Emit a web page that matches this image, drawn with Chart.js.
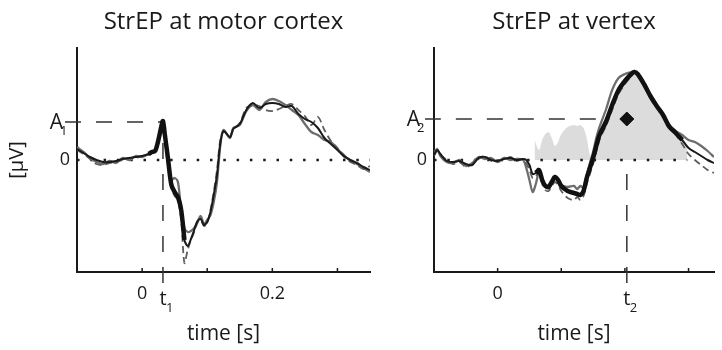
<!DOCTYPE html>
<html lang="en">
  <head>
    <meta charset="UTF-8" />
    <title>StrEP</title>
    <style>
      body {
        margin: 0;
        background: #fff;
      }
      .panel {
        position: absolute;
        top: 0;
        height: 350px;
      }
      #left {
        left: 0;
        width: 390px;
      }
      #right {
        left: 390px;
        width: 332px;
      }
    </style>
  </head>
  <body>
    <div class="panel" id="left"><canvas id="leftChart"></canvas></div>
    <div class="panel" id="right"><canvas id="rightChart"></canvas></div>

    <script src="https://cdn.jsdelivr.net/npm/chart.js"></script>
    <script>
      // ---- motor cortex panel ----
      const timeL = [-0.1, -0.09, -0.08, -0.07, -0.06, -0.05, -0.04, -0.03, -0.02, -0.01, 0,
        0.01, 0.015, 0.02, 0.025, 0.03, 0.032, 0.035, 0.04, 0.045, 0.05, 0.055, 0.06, 0.065,
        0.07, 0.075, 0.08, 0.085, 0.09, 0.095, 0.1, 0.105, 0.11, 0.115, 0.12, 0.125,
        0.135, 0.14,
        0.15, 0.16, 0.17, 0.18, 0.19, 0.2, 0.21, 0.22, 0.23, 0.24, 0.25, 0.26, 0.27, 0.28,
        0.29, 0.3, 0.31, 0.32, 0.33, 0.34, 0.35];
      const blackL = [1.1, 0.7, 0.3, 0.0, -0.2, -0.2, -0.1, 0.1, 0.2, 0.3, 0.4,
        0.6, 0.8, 0.9, 2.0, 3.5, 3.9, 2.5, 0.0, -2.5, -3.2, -3.7, -5.0, -8.0,
        -8.6, -7.9, -7.0, -6.1, -5.9, -6.5, -6.2, -5.2, -3.5, -1.5, 1.6, 2.9,
        2.3, 3.1,
        3.6, 5.0, 5.7, 5.2, 5.6, 5.7, 5.6, 5.3, 5.4, 4.6, 4.1, 3.8, 3.2, 2.2,
        1.6, 1.0, 0.4, 0.0, -0.3, -0.7, -1.0];
      const grayL = [1.3, 0.8, 0.2, -0.2, -0.4, -0.1, -0.3, 0.2, 0.0, 0.4, 0.3,
        0.6, 0.7, 0.9, 1.8, 3.2, 3.6, 2.3, -0.5, -2.0, -1.8, -2.2, -5.0, -6.8,
        -7.2, -7.1, -6.8, -6.2, -5.6, -6.4, -6.0, -5.5, -4.2, -2.2, 1.4, 3.0,
        2.2, 3.2,
        3.5, 4.9, 5.5, 5.0, 5.8, 6.1, 5.9, 5.5, 5.0, 4.5, 3.6, 2.8, 2.5, 2.0,
        1.8, 1.1, 0.5, -0.1, -0.4, -0.8, -1.2];
      const dashL = [1.0, 0.6, 0.1, -0.4, -0.5, -0.3, -0.2, 0.0, 0.2, 0.2, 0.4,
        0.5, 0.7, 0.9, 1.9, 3.4, 3.8, 2.4, -0.3, -2.8, -3.6, -4.0, -6.0, -10.3,
        -9.0, -8.0, -7.2, -6.3, -6.0, -6.6, -6.3, -5.0, -3.2, -1.0, 2.0, 2.8,
        2.4, 3.0,
        3.7, 5.2, 5.5, 5.4, 5.0, 4.9, 5.1, 5.4, 5.6, 5.0, 4.4, 3.5, 4.3, 3.0,
        1.9, 1.2, 0.3, -0.2, -0.5, -0.9, -0.6];
      const windowL = [0.01, 0.065];
      const t1 = 0.032;
      const A1 = 3.8;
      const xTicksL = [0, 0.1, 0.2, 0.3];
      const xLabelsL = ["0", "", "0.2", ""];

      // ---- vertex panel ----
      const timeR = [-0.1, -0.095, -0.09, -0.08, -0.07, -0.06, -0.05, -0.04, -0.03, -0.02,
        -0.01, 0, 0.01, 0.02, 0.03, 0.04, 0.045, 0.05, 0.055, 0.06, 0.065, 0.07, 0.075,
        0.08, 0.085, 0.09, 0.095, 0.1, 0.11, 0.12, 0.125, 0.13, 0.135, 0.14, 0.145, 0.15,
        0.155, 0.16, 0.17, 0.18, 0.19, 0.2, 0.21, 0.215, 0.22, 0.23, 0.24, 0.25, 0.26,
        0.27, 0.28, 0.29, 0.3, 0.31, 0.32, 0.33, 0.34];
      const blackR = [0.5, 1.0, 0.6, -0.1, -0.2, -0.1, -0.4, -0.5, 0.2, 0.3,
        0.0, -0.1, 0.1, 0.2, 0.0, 0.1, 0.0, -0.5, -1.4, -1.3, -1.0, -2.0, -2.6,
        -2.7, -2.2, -1.7, -2.0, -2.6, -3.1, -3.3, -3.4, -3.5, -3.1, -1.8, -0.8, 0.2,
        1.4, 2.5, 3.8, 5.5, 7.0, 7.9, 8.6, 8.8, 8.6, 7.6, 6.4, 5.4, 4.5,
        3.3, 2.7, 2.0, 1.2, 0.8, 0.4, 0.0, -0.3];
      const grayR = [0.7, 1.1, 0.4, -0.2, -0.3, 0.0, -0.6, -0.3, 0.3, 0.1,
        0.2, -0.2, 0.2, 0.0, 0.1, 0.0, -0.8, -2.0, -3.2, -2.4, -1.2, -2.1, -2.6,
        -2.5, -2.1, -1.8, -2.1, -2.5, -2.7, -2.6, -2.9, -2.6, -2.8, -1.5, -0.3, 0.8,
        2.2, 3.3, 5.0, 7.0, 8.2, 8.6, 8.8, 8.9, 8.5, 7.5, 6.5, 5.4, 4.4,
        3.5, 2.9, 2.5, 2.0, 1.8, 1.4, 0.9, 0.3];
      const dashR = [0.4, 0.9, 0.5, 0.0, -0.4, -0.2, -0.7, -0.4, 0.1, 0.4,
        -0.1, 0.0, 0.0, 0.3, -0.1, 0.1, -0.3, -1.0, -1.8, -1.6, -1.3, -2.4, -3.0,
        -3.1, -2.6, -2.2, -2.5, -3.1, -3.8, -4.0, -3.7, -4.0, -3.6, -2.4, -1.4, -0.4,
        0.8, 2.0, 3.4, 5.0, 6.6, 7.6, 8.4, 8.7, 8.5, 7.4, 6.2, 5.2, 4.3,
        3.2, 2.5, 1.6, 0.6, 0.0, -0.5, -1.0, -1.3];
      const windowR = [0.06, 0.29];
      // rectified area shown in grey
      const areaTime = [0.058, 0.065, 0.07, 0.075, 0.08, 0.085, 0.09, 0.095, 0.1, 0.11,
        0.12, 0.125, 0.13, 0.135, 0.14, 0.145, 0.15, 0.155, 0.16, 0.17, 0.18, 0.19, 0.2,
        0.21, 0.215, 0.22, 0.23, 0.24, 0.25, 0.26, 0.27, 0.28, 0.29, 0.298];
      const areaValue = [2.0, 1.0, 2.0, 2.6, 2.8, 2.2, 1.4, 1.8, 2.6, 3.3,
        3.5, 3.4, 3.5, 3.2, 2.2, 0.5, 0.2, 1.4, 2.5, 3.8, 5.5, 7.0, 7.9,
        8.6, 8.8, 8.6, 7.6, 6.4, 5.4, 4.5, 3.3, 2.7, 2.0, 1.3];
      const t2 = 0.203;
      const A2 = 4.1;
      const xTicksR = [0, 0.1, 0.2, 0.3];
      const xLabelsR = ["0", "", "", ""];

      const FONT = "'Open Sans', sans-serif";
      const INK = "#1a1a1a";

      function pts(times, values) {
        return times.map((t, i) => ({ x: t, y: values[i] }));
      }
      function inWindow(times, values, win) {
        return times.map((t, i) => ({
          x: t,
          y: t >= win[0] && t <= win[1] ? values[i] : null,
        }));
      }

      // dashed guides, inward ticks and the A/t labels
      const guidePlugin = {
        id: "guides",
        beforeDatasetsDraw(chart, args, o) {
          const { ctx, chartArea: a, scales } = chart;
          const px = scales.x.getPixelForValue(o.t);
          const py = scales.y.getPixelForValue(o.amp);
          ctx.save();
          ctx.strokeStyle = "#333";
          ctx.lineWidth = 1.5;
          ctx.setLineDash([16, 15]);
          ctx.beginPath();
          if (o.fromAxis) {
            ctx.moveTo(a.left - 12, py);
            ctx.lineTo(px, py);
          } else {
            ctx.moveTo(px, py);
            ctx.lineTo(a.left - 9, py);
          }
          ctx.stroke();
          ctx.beginPath();
          ctx.moveTo(px, a.bottom + 11);
          ctx.lineTo(px, py);
          ctx.stroke();
          ctx.restore();
        },
        afterDraw(chart, args, o) {
          const { ctx, chartArea: a, scales } = chart;
          ctx.save();
          ctx.strokeStyle = INK;
          ctx.lineWidth = 1.5;
          scales.x.ticks.forEach((tk) => {
            const x = scales.x.getPixelForValue(tk.value);
            ctx.beginPath();
            ctx.moveTo(x, a.bottom);
            ctx.lineTo(x, a.bottom - 4);
            ctx.stroke();
          });
          const px = scales.x.getPixelForValue(o.t);
          const py = scales.y.getPixelForValue(o.amp);
          ctx.fillStyle = INK;
          ctx.textBaseline = "middle";
          ctx.textAlign = "right";
          ctx.font = "21px " + FONT;
          ctx.fillText("A", a.left - 14, py + 1);
          ctx.textAlign = "left";
          ctx.font = "13px " + FONT;
          ctx.fillText(o.sub, a.left - 17, py + 9);
          ctx.textBaseline = "alphabetic";
          ctx.textAlign = "center";
          ctx.font = "20px " + FONT;
          ctx.fillText("t", px, a.bottom + 33);
          ctx.textAlign = "left";
          ctx.font = "13px " + FONT;
          ctx.fillText(o.sub, px + 3, a.bottom + 40);
          ctx.restore();
        },
      };

      function makePanel(id, p) {
        const datasets = [];
        if (p.area) {
          datasets.push({
            data: p.area,
            fill: "origin",
            backgroundColor: "#dcdcdc",
            borderWidth: 0,
            pointRadius: 0,
            tension: 0.3,
            order: 9,
          });
        }
        datasets.push(
          {
            data: [
              { x: p.min, y: 0 },
              { x: p.zeroEnd, y: 0 },
            ],
            borderColor: INK,
            borderWidth: 2.5,
            borderDash: [2.5, 10.8],
            pointRadius: 0,
            order: 8,
          },
          {
            data: pts(p.time, p.gray),
            borderColor: "#6e6e6e",
            borderWidth: 2.3,
            pointRadius: 0,
            tension: 0.3,
            order: 5,
          },
          {
            data: pts(p.time, p.dash),
            borderColor: "#5e5e5e",
            borderWidth: 1.8,
            borderDash: [7, 4],
            pointRadius: 0,
            tension: 0.3,
            order: 4,
          },
          {
            data: pts(p.time, p.black),
            borderColor: INK,
            borderWidth: 2,
            pointRadius: 0,
            tension: 0.3,
            order: 3,
          },
          {
            data: inWindow(p.time, p.black, p.win),
            borderColor: "#111",
            borderWidth: 4.5,
            pointRadius: 0,
            tension: 0.3,
            spanGaps: false,
            order: 2,
          }
        );
        if (p.marker) {
          datasets.push({
            data: [p.marker],
            showLine: false,
            pointStyle: "rectRot",
            pointRadius: 7,
            pointBackgroundColor: "#111",
            pointBorderColor: "#111",
            order: 1,
          });
        }

        new Chart(document.getElementById(id), {
          type: "line",
          data: { datasets },
          plugins: [guidePlugin],
          options: {
            responsive: true,
            maintainAspectRatio: false,
            animation: false,
            layout: { padding: { left: 0, right: p.padRight, top: 0, bottom: 0 } },
            plugins: {
              legend: { display: false },
              tooltip: { enabled: false },
              title: {
                display: true,
                text: p.title,
                fullSize: false,
                color: INK,
                font: { family: FONT, size: 24, weight: "normal", lineHeight: 1.2 },
                padding: { top: 8, bottom: 11.2 },
              },
              guides: { t: p.t, amp: p.amp, sub: p.sub, fromAxis: p.fromAxis },
            },
            scales: {
              x: {
                type: "linear",
                min: p.min,
                max: p.max,
                grid: { display: false, drawTicks: false },
                border: { display: true, color: INK, width: 2 },
                afterBuildTicks: (s) => {
                  s.ticks = p.xTicks.map((v) => ({ value: v }));
                },
                afterFit: (s) => {
                  s.height = 78;
                },
                ticks: {
                  autoSkip: false,
                  maxRotation: 0,
                  padding: 11,
                  color: INK,
                  font: { family: FONT, size: 18 },
                  callback: (v, i) => p.xLabels[i],
                },
                title: {
                  display: true,
                  text: "time [s]",
                  color: INK,
                  font: { family: FONT, size: 21 },
                  padding: { top: 0, bottom: 3 },
                },
              },
              y: {
                min: -11.2,
                max: 11.2,
                grid: { display: false, drawTicks: false },
                border: { display: true, color: INK, width: 2 },
                afterBuildTicks: (s) => {
                  s.ticks = [{ value: 0 }];
                },
                afterFit: (s) => {
                  s.width = p.yWidth;
                },
                ticks: {
                  padding: 7,
                  color: INK,
                  font: { family: FONT, size: 18 },
                  callback: () => "0",
                },
                title: {
                  display: p.yTitle,
                  text: "[μV]",
                  color: INK,
                  font: { family: FONT, size: 20 },
                  padding: { top: 5, bottom: 0 },
                },
              },
            },
          },
        });
      }

      makePanel("leftChart", {
        title: "StrEP at motor cortex",
        time: timeL,
        black: blackL,
        gray: grayL,
        dash: dashL,
        win: windowL,
        min: -0.1,
        max: 0.35,
        zeroEnd: 0.35,
        xTicks: xTicksL,
        xLabels: xLabelsL,
        t: t1,
        amp: A1,
        sub: "1",
        fromAxis: true,
        yWidth: 77,
        yTitle: true,
        padRight: 20,
      });

      makePanel("rightChart", {
        title: "StrEP at vertex",
        time: timeR,
        black: blackR,
        gray: grayR,
        dash: dashR,
        win: windowR,
        area: pts(areaTime, areaValue),
        marker: { x: t2, y: A2 },
        min: -0.1,
        max: 0.34,
        zeroEnd: 0.298,
        xTicks: xTicksR,
        xLabels: xLabelsR,
        t: t2,
        amp: A2,
        sub: "2",
        fromAxis: false,
        yWidth: 44,
        yTitle: false,
        padRight: 0,
      });
    </script>
  </body>
</html>
